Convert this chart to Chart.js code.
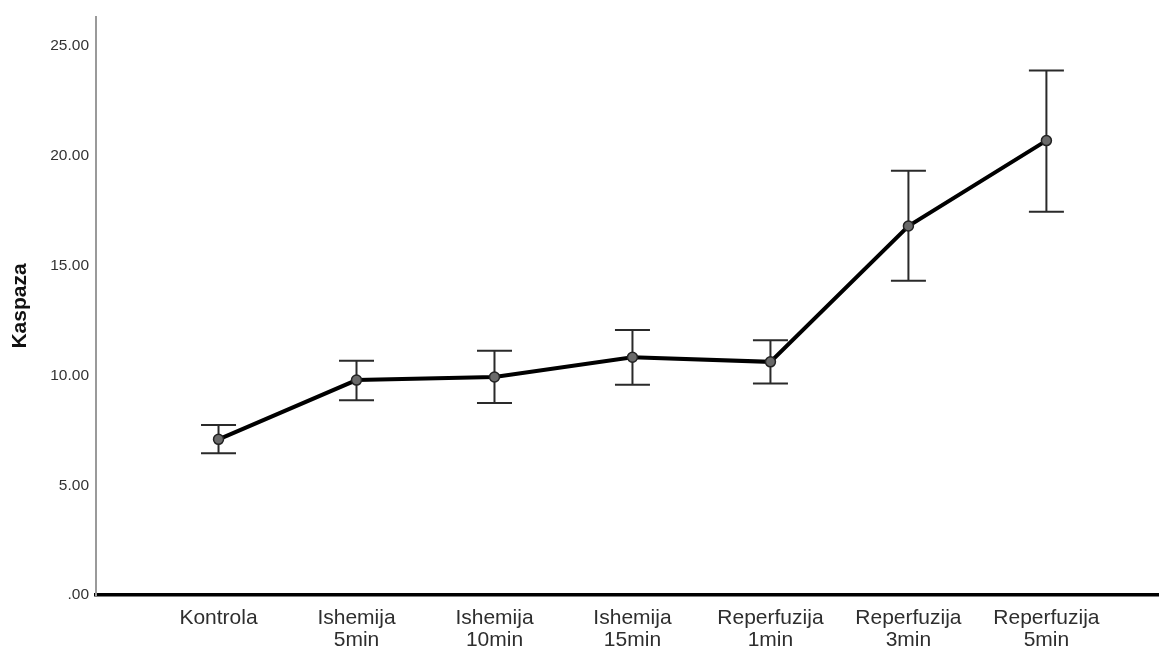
<!DOCTYPE html>
<html>
<head>
<meta charset="utf-8">
<title>Kaspaza</title>
<script src="https://cdn.jsdelivr.net/npm/chart.js@4.4.1/dist/chart.umd.min.js"></script>
<style>
    html, body { margin: 0; padding: 0; background: #fff; }
    #wrap { width: 1159px; height: 647px; }
</style>
</head>
<body>
<div id="wrap"><canvas id="chart" width="1159" height="647"></canvas></div>
<script>
// Data
const categories = [
    ['Kontrola'],
    ['Ishemija', '5min'],
    ['Ishemija', '10min'],
    ['Ishemija', '15min'],
    ['Reperfuzija', '1min'],
    ['Reperfuzija', '3min'],
    ['Reperfuzija', '5min']
];
const means = [7.09, 9.79, 9.93, 10.83, 10.62, 16.81, 20.70];
const upper = [7.74, 10.67, 11.13, 12.07, 11.60, 19.33, 23.89];
const lower = [6.46, 8.87, 8.75, 9.58, 9.64, 14.32, 17.46];
const yTicks = [0, 5, 10, 15, 20, 25];

// Error bars drawn through the chart's scales
const errorBars = {
    id: 'errorBars',
    beforeDatasetsDraw(chart) {
        const { ctx, scales: { x, y } } = chart;
        ctx.save();
        ctx.strokeStyle = '#2a2a2a';
        ctx.lineWidth = 2;
        const cap = 17.5;
        means.forEach((m, i) => {
            const px = x.getPixelForValue(i);
            const top = y.getPixelForValue(upper[i]);
            const bot = y.getPixelForValue(lower[i]);
            ctx.beginPath();
            ctx.moveTo(px, top); ctx.lineTo(px, bot);
            ctx.moveTo(px - cap, top); ctx.lineTo(px + cap, top);
            ctx.moveTo(px - cap, bot); ctx.lineTo(px + cap, bot);
            ctx.stroke();
        });
        ctx.restore();
    }
};

new Chart(document.getElementById('chart'), {
    type: 'line',
    data: {
        datasets: [{
            data: means.map((v, i) => ({ x: i, y: v })),
            borderColor: '#000',
            borderWidth: 4,
            pointRadius: 5,
            pointBackgroundColor: '#6a6a6a',
            pointBorderColor: '#222',
            pointBorderWidth: 1.5,
            tension: 0
        }]
    },
    options: {
        responsive: false,
        animation: false,
        layout: { autoPadding: false, padding: { top: 17, right: 0, bottom: 0, left: 0 } },
        plugins: { legend: { display: false }, tooltip: { enabled: false } },
        scales: {
            x: {
                type: 'linear',
                min: -0.888,
                max: 6.816,
                afterBuildTicks: s => { s.ticks = categories.map((c, i) => ({ value: i })); },
                afterFit: s => { s.height = 52; s.paddingLeft = 0; s.paddingRight = 0; },
                grid: { display: false, drawTicks: false },
                border: { color: '#000', width: 3.5 },
                ticks: {
                    autoSkip: false,
                    maxRotation: 0,
                    padding: 12,
                    color: '#2e2e2e',
                    font: { family: 'Liberation Sans, Arial, sans-serif', size: 21, lineHeight: 1.05 },
                    callback: v => categories[v]
                }
            },
            y: {
                min: 0,
                max: 26.33,
                afterBuildTicks: s => { s.ticks = yTicks.map(v => ({ value: v })); },
                afterFit: s => { s.width = 96; },
                grid: { display: false, drawTicks: false },
                border: { color: '#9a9a9a', width: 2 },
                ticks: {
                    padding: 7,
                    color: '#333',
                    font: { family: 'Liberation Sans, Arial, sans-serif', size: 15.5 },
                    callback: v => v === 0 ? '.00' : v.toFixed(2)
                },
                title: {
                    display: true,
                    text: 'Kaspaza',
                    color: '#111',
                    padding: { top: 8, bottom: 0 },
                    font: { family: 'Liberation Sans, Arial, sans-serif', size: 21, weight: 'bold' }
                }
            }
        }
    },
    plugins: [errorBars]
});
</script>
</body>
</html>
